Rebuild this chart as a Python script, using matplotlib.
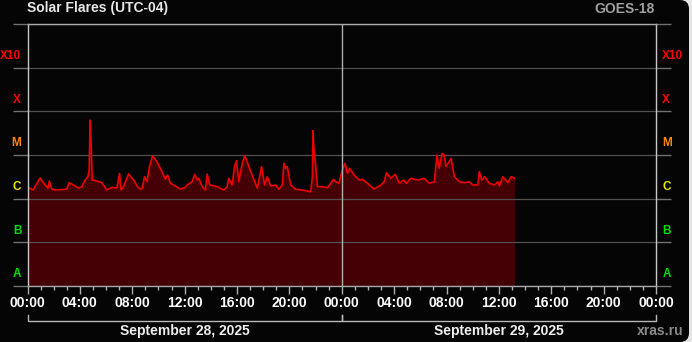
import matplotlib
matplotlib.use("Agg")
import matplotlib.pyplot as plt
from matplotlib.patches import FancyBboxPatch
from matplotlib.ticker import MultipleLocator, FixedLocator, FixedFormatter, NullFormatter, FuncFormatter
import matplotlib.transforms as mtransforms

plt.rcParams['font.family'] = ['Liberation Sans', 'DejaVu Sans']
plt.rcParams['font.weight'] = 'bold'

# hours since 2025-09-28 00:00 (UTC-04)
hours = [
    0.00, 0.42, 0.96, 1.34, 1.57, 1.67, 1.85, 2.24, 3.00, 3.18, 3.51, 3.89, 4.15, 4.40,
    4.61, 4.71, 4.78, 4.86, 4.94, 5.30, 5.68, 6.06, 6.45, 6.83, 7.03, 7.14, 7.33, 7.72,
    8.10, 8.48, 8.74, 8.94, 9.13, 9.32, 9.55, 9.89, 10.27, 10.53, 10.70, 10.91, 11.29,
    11.68, 12.06, 12.19, 12.57, 12.77, 12.95, 13.08, 13.34, 13.59, 13.72, 13.92, 14.49,
    14.99, 15.25, 15.37, 15.63, 15.81, 15.96, 16.14, 16.40, 16.60, 16.86, 17.16, 17.55,
    17.88, 18.11, 18.31, 18.57, 18.95, 19.20, 19.46, 19.58, 19.71, 19.84, 20.10, 20.48,
    20.99, 21.63, 21.76, 21.80, 21.88, 21.96, 22.14, 22.52, 22.91, 23.37, 23.54, 23.79,
    24.00, 24.25, 24.44, 24.61, 24.94, 25.33, 25.59, 25.97, 26.47, 26.99, 27.24, 27.42,
    27.75, 28.08, 28.39, 28.73, 28.95, 29.28, 29.80, 30.30, 30.69, 31.07, 31.27, 31.45,
    31.66, 31.83, 31.96, 32.35, 32.60, 32.98, 33.37, 33.75, 34.01, 34.39, 34.51, 34.70,
    34.90, 35.28, 35.66, 35.92, 36.04, 36.30, 36.69, 36.94, 37.19,
]
# GOES X-ray flux, W/m^2
flux = [
    1.85e-6, 1.58e-6, 2.97e-6, 2.06e-6, 1.75e-6, 2.54e-6, 1.66e-6, 1.58e-6, 1.66e-6, 2.32e-6,
    2.06e-6, 1.75e-6, 1.88e-6, 2.67e-6, 3.18e-6, 4.53e-6, 6.30e-5, 1.88e-5, 2.67e-6, 2.54e-6,
    2.32e-6, 1.58e-6, 1.82e-6, 1.75e-6, 3.81e-6, 1.58e-6, 1.88e-6, 3.67e-6, 2.67e-6, 1.75e-6,
    1.66e-6, 3.18e-6, 2.44e-6, 5.39e-6, 9.64e-6, 7.01e-6, 4.14e-6, 2.77e-6, 3.48e-6, 2.25e-6,
    1.95e-6, 1.66e-6, 1.82e-6, 2.06e-6, 2.44e-6, 3.61e-6, 2.67e-6, 2.92e-6, 1.88e-6, 1.58e-6,
    3.67e-6, 2.06e-6, 1.88e-6, 1.58e-6, 1.88e-6, 2.92e-6, 2.06e-6, 5.39e-6, 7.40e-6, 2.44e-6,
    6.46e-6, 9.64e-6, 5.90e-6, 3.48e-6, 1.73e-6, 5.39e-6, 2.06e-6, 3.18e-6, 1.95e-6, 2.06e-6,
    1.64e-6, 2.06e-6, 6.46e-6, 4.95e-6, 5.39e-6, 2.06e-6, 1.64e-6, 1.58e-6, 1.44e-6, 3.18e-6,
    3.60e-5, 1.30e-5, 8.40e-6, 1.88e-6, 1.88e-6, 1.78e-6, 2.77e-6, 2.44e-6, 2.25e-6, 4.14e-6,
    6.46e-6, 3.81e-6, 4.95e-6, 3.48e-6, 2.67e-6, 2.77e-6, 2.25e-6, 1.66e-6, 2.06e-6, 2.44e-6,
    3.93e-6, 2.92e-6, 3.61e-6, 2.25e-6, 2.67e-6, 2.25e-6, 2.92e-6, 2.67e-6, 2.92e-6, 2.25e-6,
    2.44e-6, 1.00e-5, 4.95e-6, 1.09e-5, 1.00e-5, 5.39e-6, 8.40e-6, 3.18e-6, 2.44e-6, 2.32e-6,
    2.44e-6, 2.06e-6, 2.06e-6, 4.14e-6, 2.67e-6, 3.18e-6, 2.25e-6, 2.06e-6, 2.44e-6, 1.95e-6,
    3.18e-6, 2.32e-6, 3.18e-6, 2.92e-6,
]

class_bounds = [1e-8, 1e-7, 1e-6, 1e-5, 1e-4, 1e-3, 1e-2]
class_label_pos = [2e-8, 2e-7, 2e-6, 2e-5, 2e-4, 2e-3]
class_labels = ['A', 'B', 'C', 'M', 'X', 'X10']
class_colors = ['#00dd00', '#00dd00', '#e8e800', '#ff8800', '#ff0000', '#ff0000']
day_labels = ['September 28, 2025', 'September 29, 2025']

fig = plt.figure(figsize=(6.92, 3.42), dpi=100, facecolor='#e4e4e4')
# rounded black panel
bg = FancyBboxPatch((-0.3, 0.0), 7.19, 3.42, boxstyle="round,pad=0,rounding_size=0.09",
                    transform=fig.dpi_scale_trans, facecolor='#050505', edgecolor='none', zorder=-10)
fig.add_artist(bg)

ax = fig.add_axes([27.5 / 692, 1 - 286 / 342, (656 - 27.5) / 692, (286 - 24) / 342])
ax.set_facecolor('#050505')

ax.fill_between(hours, flux, 1e-8, color='#440005', linewidth=0, zorder=1)
ax.plot(hours, flux, color='#ee0000', linewidth=1.2, zorder=2)
ax.axvline(24, color='#b0b0b0', linewidth=1.0, zorder=3)

ax.set_yscale('log')
ax.set_ylim(1e-8, 1e-2)
ax.set_xlim(0, 48)

# y axis: decade ticks extend outward, class letters inside each band
ax.yaxis.set_major_locator(FixedLocator(class_bounds))
ax.yaxis.set_major_formatter(NullFormatter())
ax.yaxis.set_minor_locator(FixedLocator(class_label_pos))
ax.yaxis.set_minor_formatter(FixedFormatter(class_labels))
ax.tick_params(axis='y', which='major', direction='out', length=10.5, width=1.0,
               color='#707070', left=True, right=True)
ax.tick_params(axis='y', which='minor', length=0, pad=4.5, labelsize=8.5,
               left=True, right=True, labelleft=True, labelright=True)
for tick, col in zip(ax.yaxis.get_minor_ticks(), class_colors):
    tick.label1.set_color(col)
    tick.label2.set_color(col)
    tick.label1.set_fontweight('bold')
    tick.label2.set_fontweight('bold')
ax.grid(axis='y', which='major', color='#505050', linewidth=0.9)

# x axis
ax.xaxis.set_major_locator(MultipleLocator(4))
ax.xaxis.set_minor_locator(MultipleLocator(1))
ax.xaxis.set_major_formatter(FuncFormatter(lambda h, pos: f"{int(round(h)) % 24:02d}:00"))
ax.tick_params(axis='x', which='major', direction='out', length=5.5, width=1.0,
               color='#b0b0b0', labelcolor='white', labelsize=10, pad=2)
ax.tick_params(axis='x', which='minor', direction='out', length=3, width=1.0, color='#b0b0b0')
for lab in ax.get_xticklabels():
    lab.set_fontweight('bold')

for side in ['left', 'right']:
    ax.spines[side].set_color('#c8c8c8')
for side in ['top', 'bottom']:
    ax.spines[side].set_color('#a8a8a8')
for sp in ax.spines.values():
    sp.set_linewidth(1.0)

# day brackets under the time axis
trans = mtransforms.blended_transform_factory(ax.transData, ax.transAxes)
for i, label in enumerate(day_labels):
    x0, x1 = 24 * i, 24 * (i + 1)
    ax.plot([x0, x0, x1, x1], [-0.111, -0.1336, -0.1336, -0.111], transform=trans,
            color='#b8b8b8', linewidth=1.0, clip_on=False)
    ax.text((x0 + x1) / 2, -0.172, label, transform=trans, ha='center', va='center',
            color='#eeeeee', fontsize=10, fontweight='bold')

fig.text(27 / 692, 1 - 8 / 342, 'Solar Flares (UTC-04)', ha='left', va='center',
         color='#e6e6e6', fontsize=10, fontweight='bold')
fig.text(655 / 692, 1 - 9 / 342, 'GOES-18', ha='right', va='center',
         color='#a0a0a0', fontsize=10, fontweight='bold')
fig.text(684 / 692, 1 - 331 / 342, 'xras.ru', ha='right', va='center',
         color='#8a8a8a', fontsize=10, fontweight='bold')

fig.savefig('out.png', dpi=100, facecolor=fig.get_facecolor())
